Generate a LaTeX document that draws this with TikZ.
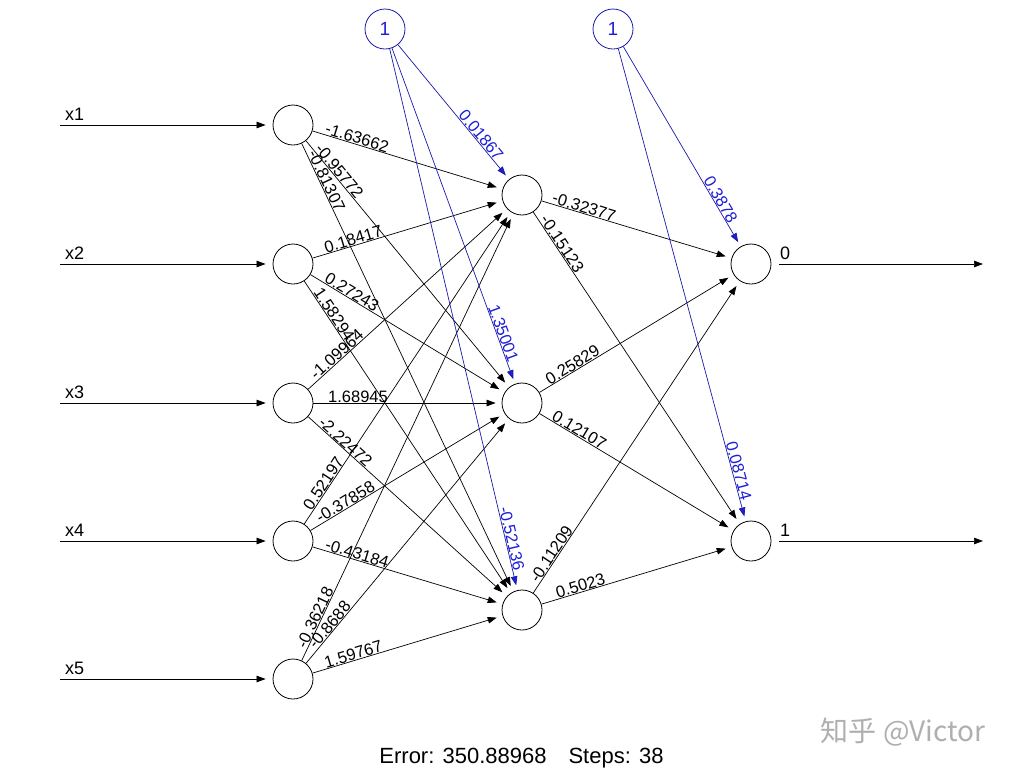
\documentclass[tikz,border=0pt]{standalone}
\usepackage{fontspec}
\setmainfont{Liberation Sans}
\newfontfamily\cjkfont{Noto Sans CJK SC}
\usetikzlibrary{arrows.meta,calc}
\definecolor{bline}{RGB}{25,25,170}
\definecolor{btext}{RGB}{30,30,215}
\definecolor{wmark}{RGB}{175,175,175}
\newcommand\wl[5][black]{%
  \path let \p1=($(#3)-(#2)$), \n1={atan2(\y1,\x1)} in
    ($(#2)!#4!(#3)$) node[wlab,rotate=\n1,text=#1] {#5};}
\begin{document}
\begin{tikzpicture}[x=1pt,y=-1pt,
  neuron/.style={circle,draw,minimum size=40pt,inner sep=0pt,line width=0.8pt},
  biasnode/.style={neuron,draw=bline,text=btext,font=\fontsize{19}{19}\selectfont},
  wire/.style={draw,line width=0.7pt,-{Triangle[length=9pt,width=6.5pt]},shorten >=6pt},
  bwire/.style={wire,draw=bline,-{Triangle[length=9pt,width=6.5pt,fill=btext]},shorten >=5pt},
  wlab/.style={font=\fontsize{16.5}{16.5}\selectfont,anchor=south,inner sep=0.5pt},
  iolab/.style={font=\fontsize{18}{18}\selectfont,inner sep=0pt}]
\useasboundingbox (0,0) rectangle (1013,772);
% input layer
\foreach \i/\y in {1/125,2/264,3/403,4/541,5/679}{
  \node[neuron] (i\i) at (293,\y) {};
  \coordinate (s\i) at (60,\y);
  \draw[wire,shorten >=7pt] (s\i) -- (i\i);
  \node[iolab,anchor=south west] (xl\i) at ($(s\i)+(5,-4)$) {x\i};
}
% hidden layer
\foreach \j/\y in {1/195,2/403,3/610}{
  \node[neuron] (h\j) at (522,\y) {};
}
% output layer
\foreach \k/\y/\t in {1/264/0,2/541/1}{
  \node[neuron] (o\k) at (751,\y) {};
  \coordinate (e\k) at (983,\y);
  \draw[wire,shorten <=8pt,shorten >=0pt] (o\k) -- (e\k);
  \node[iolab,anchor=south west] (ol\k) at ($(o\k)+(29,-4)$) {\t};
}
% bias nodes
\node[biasnode] (b1) at (385,29) {1};
\node[biasnode] (b2) at (613,29) {1};
% input -> hidden
\foreach \i in {1,...,5}{\foreach \j in {1,2,3}{\draw[wire] (i\i) -- (h\j);}}
\foreach \i/\j/\w in {1/1/-1.63662,1/2/-0.95772,1/3/-0.81307,
  2/1/0.18417,2/2/0.27243,2/3/1.58294,
  3/1/-1.09964,3/2/1.68945,3/3/-2.22472,
  4/1/0.52197,4/2/-0.37858,4/3/-0.43184,
  5/1/-0.36218,5/2/-0.8688,5/3/1.59767}{\wl{i\i}{h\j}{65pt}{\w}}
% hidden -> output
\foreach \j in {1,2,3}{\foreach \k in {1,2}{\draw[wire] (h\j) -- (o\k);}}
\foreach \j/\k/\w in {1/1/-0.32377,1/2/-0.15123,2/1/0.25829,2/2/0.12107,
  3/1/-0.11209,3/2/0.5023}{\wl{h\j}{o\k}{63pt}{\w}}
% bias edges
\foreach \j in {1,2,3}{\draw[bwire] (b1) -- (h\j);}
\foreach \k in {1,2}{\draw[bwire] (b2) -- (o\k);}
\foreach \j/\w in {1/0.01867,2/1.35001,3/-0.52136}{
  \path let \p1=($(h\j)-(b1)$), \n1={atan2(\y1,\x1)} in
    ($(h\j)!72pt!(b1)$) node[wlab,rotate=\n1,text=btext] {\w};}
\foreach \k/\w in {1/0.3878,2/0.08714}{
  \path let \p1=($(o\k)-(b2)$), \n1={atan2(\y1,\x1)} in
    ($(o\k)!71pt!(b2)$) node[wlab,rotate=\n1,text=btext] {\w};}
% footer
\node[font=\fontsize{22}{22}\selectfont,anchor=base] (err) at (521.5,763)
  {Error: 350.88968\hspace{22pt}Steps: 38};
\node[font=\cjkfont\fontsize{28}{28}\selectfont,text=wmark] (wm) at (903,732)
  {知乎 @Victor};
\end{tikzpicture}
\end{document}
